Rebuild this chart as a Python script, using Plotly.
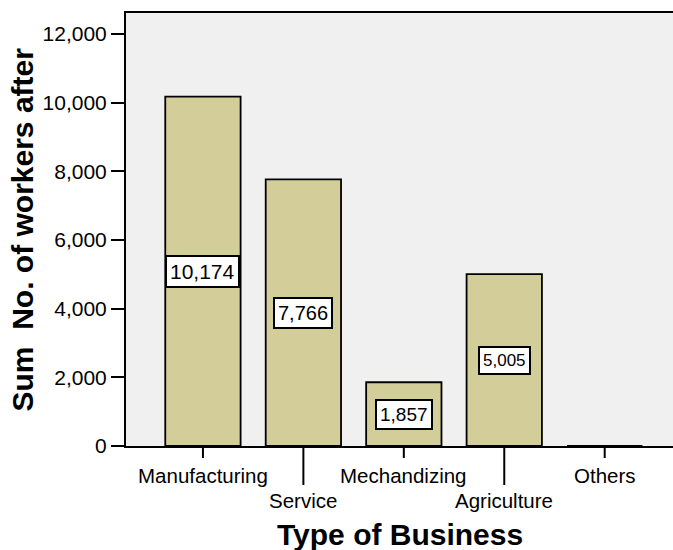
import plotly.graph_objects as go

categories = ["Manufacturing", "Service", "Mechandizing", "Agriculture", "Others"]
values = [10174, 7766, 1857, 5005, 0]
value_labels = ["10,174", "7,766", "1,857", "5,005"]
y_ticks = [0, 2000, 4000, 6000, 8000, 10000, 12000]

label_sizes = [21, 20, 19, 17]
label_pads = [3, 3, 3, 3]

FONT = "Arial, Liberation Sans, sans-serif"
idx = list(range(len(categories)))

fig = go.Figure()
fig.add_trace(go.Bar(
    x=idx, y=values, width=0.75,
    marker=dict(color="#d3ce99", line=dict(color="black", width=1.8)),
    hoverinfo="skip",
))

annotations = []
for i, lab in enumerate(value_labels):
    annotations.append(dict(
        x=i, y=values[i] / 2, xref="x", yref="y", text=lab, showarrow=False,
        font=dict(family=FONT, size=label_sizes[i], color="black"),
        bgcolor="white", bordercolor="black", borderwidth=2, borderpad=label_pads[i],
    ))

shapes = []
for i, c in enumerate(categories):
    long = (i % 2 == 1)
    shapes.append(dict(
        type="line", xref="x", yref="paper", x0=i, x1=i,
        ysizemode="pixel", yanchor=0, y0=0, y1=-(39 if long else 12),
        line=dict(color="black", width=2),
    ))
    annotations.append(dict(
        x=i, y=0, xref="x", yref="paper", text=c, showarrow=False,
        yanchor="middle", yshift=-(54 if long else 29),
        font=dict(family=FONT, size=20.5, color="black"),
    ))

annotations.append(dict(
    x=0.5, y=0, xref="paper", yref="paper", text="<b>Type of Business</b>",
    showarrow=False, yanchor="middle", yshift=-88,
    font=dict(family=FONT, size=30, color="black"),
))
annotations.append(dict(
    x=0, y=0.5, xref="paper", yref="paper", text="<b>Sum&nbsp; No. of workers after</b>",
    showarrow=False, xanchor="center", yanchor="middle", xshift=-104, textangle=-90,
    font=dict(family=FONT, size=30, color="black"),
))

fig.update_layout(
    width=673, height=550,
    margin=dict(l=126, r=0, t=13, b=104, autoexpand=False),
    paper_bgcolor="white", plot_bgcolor="#f0f0f0",
    showlegend=False,
    annotations=annotations,
    shapes=shapes,
    font=dict(family=FONT, color="black"),
)
fig.update_xaxes(
    range=[-0.766, 4.68], showticklabels=False, ticks="",
    showline=True, linecolor="black", linewidth=2, mirror=True,
    showgrid=False, zeroline=False, automargin=False,
)
fig.update_yaxes(
    range=[0, 12610], tickvals=y_ticks, tickformat=",d",
    ticks="outside", ticklen=13, tickwidth=2, tickcolor="black",
    tickfont=dict(size=21, family=FONT),
    showline=True, linecolor="black", linewidth=2,
    showgrid=False, zeroline=False, automargin=False,
)

fig.write_html(
    "out.html",
    config={"displayModeBar": False, "staticPlot": True},
    post_script="document.body.style.margin='0';document.body.style.padding='0';",
)
